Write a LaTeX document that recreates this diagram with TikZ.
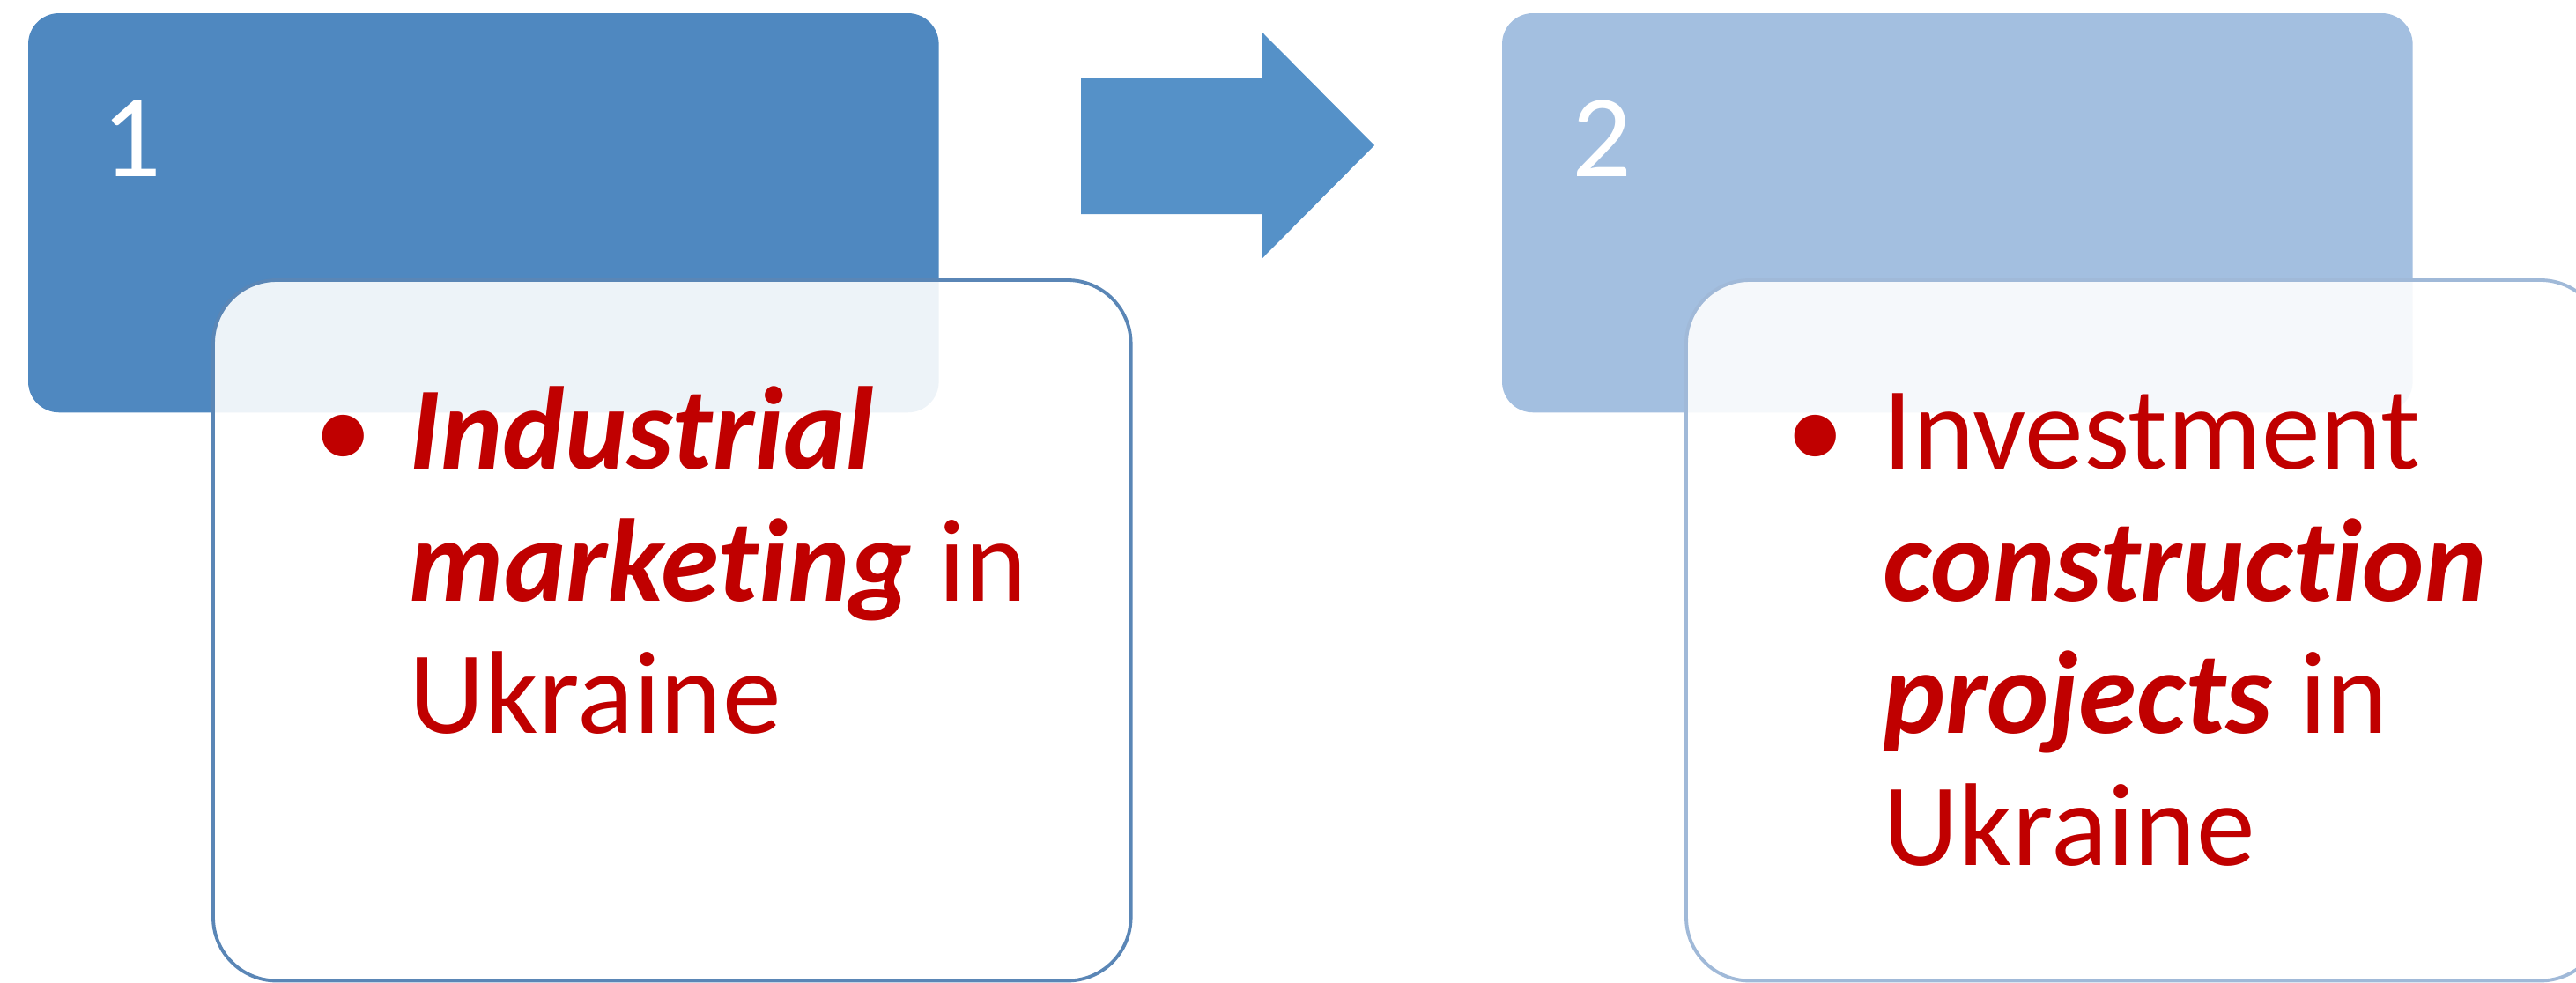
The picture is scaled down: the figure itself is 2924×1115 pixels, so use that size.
\documentclass[tikz,border=0pt]{standalone}
\usepackage{fontspec}
\setmainfont{Carlito}[Ligatures=NoCommon]
\definecolor{darkhead}{HTML}{4F88C0}
\definecolor{lighthead}{HTML}{A3BFE0}
\definecolor{arrowblue}{HTML}{5591C8}
\definecolor{darkedge}{HTML}{5A86B6}
\definecolor{lightedge}{HTML}{A0B9D8}
\definecolor{textred}{HTML}{C00000}

\begin{document}
\begin{tikzpicture}[x=0.01cm, y=-0.01cm,
  hbox/.style={anchor=north west, inner sep=0, outer sep=0, rounded corners=0.35cm, minimum width=10.33cm, minimum height=4.53cm},
  tbox/.style={anchor=north west, inner sep=0, outer sep=0, rounded corners=0.72cm, fill=white, fill opacity=0.9, line width=1.1pt, minimum width=10.41cm, minimum height=7.95cm},
  num/.style={anchor=base west, inner sep=0, text=white, font=\fontsize{38}{42}\selectfont},
  txt/.style={anchor=base west, inner sep=0, text=textred, font=\fontsize{38}{42}\selectfont}]

  \clip (0,0) rectangle (2924,1115);

  % header boxes
  \node[hbox, fill=darkhead] at (32,15) (head1) {};
  \node[hbox, fill=lighthead] at (1705,15) (head2) {};

  % block arrow between the two steps
  \fill[arrowblue] (1227,88) -- (1433,88) -- (1433,37) -- (1560,165) -- (1433,293) -- (1433,243) -- (1227,243) -- cycle;

  \node[num] at (115,200) (n1) {1};
  \node[num] at (1784,200) (n2) {2};

  % text boxes
  \node[tbox, draw=darkedge] at (242,318) (body1) {};
  \node[tbox, draw=lightedge] at (1914,318) (body2) {};

  \node[txt] at (356,532) (b1) {•};
  \node[txt] at (464,532) (l11) {\textbf{\textit{Industrial}}};
  \node[txt] at (464,682) (l12) {\textbf{\textit{marketing}} in};
  \node[txt] at (464,832) (l13) {Ukraine};

  \node[txt] at (2027,532) (b2) {•};
  \node[txt] at (2137,532) (l21) {Investment};
  \node[txt] at (2137,682) (l22) {\textbf{\textit{construction}}};
  \node[txt] at (2137,832) (l23) {\textbf{\textit{projects}} in};
  \node[txt] at (2137,982) (l24) {Ukraine};

\end{tikzpicture}
\end{document}
